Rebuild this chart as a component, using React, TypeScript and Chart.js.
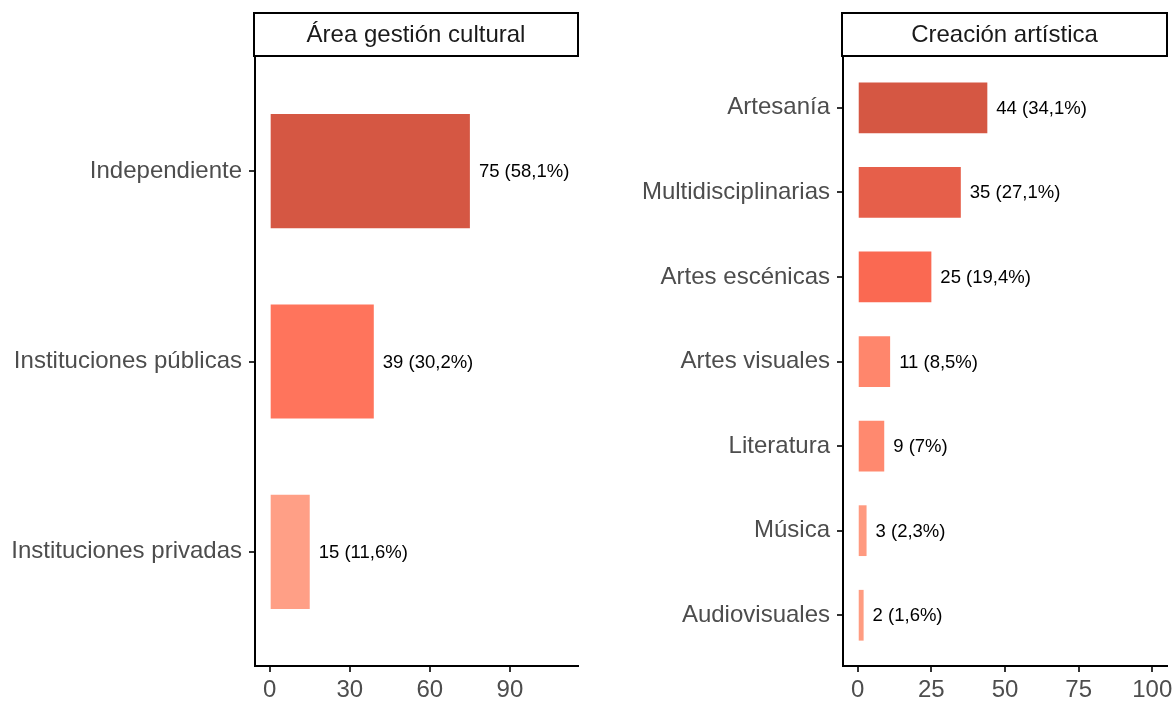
import React, { useEffect, useRef } from "react";
import { Chart, registerables, CategoryScale } from "chart.js";

Chart.register(...registerables);

class PaddedCategory extends (CategoryScale as any) {
  static id = "paddedCategory";
  static defaults = (CategoryScale as any).defaults;
  configure() {
    super.configure();
    const pad = 0.6;
    (this as any)._startValue = (this as any).min - pad;
    (this as any)._valueRange = (this as any).max - (this as any).min + 2 * pad;
  }
}
Chart.register(PaddedCategory as any);

// ---- Data ----
const leftTitle = "Área gestión cultural";
const leftCategories = ["Independiente", "Instituciones públicas", "Instituciones privadas"];
const leftValues = [75, 39, 15];
const leftPercents = ["58,1%", "30,2%", "11,6%"];
const leftColors = ["#D55743", "#FF745C", "#FF9F86"];
const leftTicks = [0, 30, 60, 90];
const leftLimits = [0, 110];

const rightTitle = "Creación artística";
const rightCategories = [
  "Artesanía",
  "Multidisciplinarias",
  "Artes escénicas",
  "Artes visuales",
  "Literatura",
  "Música",
  "Audiovisuales",
];
const rightValues = [44, 35, 25, 11, 9, 3, 2];
const rightPercents = ["34,1%", "27,1%", "19,4%", "8,5%", "7%", "2,3%", "1,6%"];
const rightColors = ["#D55743", "#E65F4A", "#FA6952", "#FF866C", "#FF896F", "#FF9A80", "#FF9C81"];
const rightTicks = [0, 25, 50, 75, 100];
const rightLimits = [0, 100];

const FONT = "'Liberation Sans', Arial, Helvetica, sans-serif";

type PanelProps = {
  title: string;
  categories: string[];
  values: number[];
  percents: string[];
  colors: string[];
  ticks: number[];
  limits: number[];
  left: number;
  width: number;
  axisWidth: number;
  padRight: number;
};

function Panel(p: PanelProps) {
  const ref = useRef<HTMLCanvasElement | null>(null);
  useEffect(() => {
    if (!ref.current) return;
    const span = p.limits[1] - p.limits[0];
    const stripPlugin = {
      id: "strip",
      afterDraw(chart: any) {
        const { ctx, chartArea } = chart;
        ctx.save();
        const top = 13;
        const bottom = 56;
        const l = chartArea.left - 1;
        ctx.fillStyle = "#FFFFFF";
        ctx.fillRect(l, top, chartArea.right - l, bottom - top);
        ctx.strokeStyle = "#000000";
        ctx.lineWidth = 2;
        ctx.strokeRect(l, top, chartArea.right - l, bottom - top);
        ctx.fillStyle = "#1A1A1A";
        ctx.font = `24px ${FONT}`;
        ctx.textAlign = "center";
        ctx.textBaseline = "middle";
        ctx.fillText(p.title, (l + chartArea.right) / 2, (top + bottom) / 2 + 1);
        ctx.restore();
      },
    };
    const labelPlugin = {
      id: "valueLabels",
      afterDatasetsDraw(chart: any) {
        const { ctx } = chart;
        const meta = chart.getDatasetMeta(0);
        ctx.save();
        ctx.fillStyle = "#000000";
        ctx.font = `18.5px ${FONT}`;
        ctx.textAlign = "left";
        ctx.textBaseline = "middle";
        meta.data.forEach((bar: any, i: number) => {
          ctx.fillText(`${p.values[i]} (${p.percents[i]})`, bar.x + 9, bar.y + 1);
        });
        ctx.restore();
      },
    };
    const chart = new Chart(ref.current, {
      type: "bar",
      data: {
        labels: p.categories,
        datasets: [
          {
            data: p.values,
            backgroundColor: p.colors,
            borderWidth: 0,
            categoryPercentage: 0.6,
            barPercentage: 1,
          },
        ],
      },
      options: {
        indexAxis: "y",
        animation: false,
        responsive: true,
        maintainAspectRatio: false,
        layout: { padding: { top: 57, right: p.padRight, bottom: 0, left: 0 } },
        plugins: { legend: { display: false }, tooltip: { enabled: false }, title: { display: false } },
        scales: {
          x: {
            type: "linear",
            min: p.limits[0] - span * 0.05,
            max: p.limits[1] + span * 0.05,
            afterBuildTicks: (s: any) => {
              s.ticks = p.ticks.map((v) => ({ value: v }));
            },
            afterFit: (s: any) => {
              s.height = 36;
              s.paddingLeft = 0;
              s.paddingRight = 0;
            },
            border: { display: true, color: "#000000", width: 2 },
            grid: {
              display: true,
              drawOnChartArea: false,
              drawTicks: true,
              tickLength: 6,
              color: "#333333",
              lineWidth: 2,
            },
            ticks: {
              color: "#4D4D4D",
              font: { family: FONT, size: 24 },
              padding: 4,
              maxRotation: 0,
              autoSkip: false,
            },
          },
          y: {
            type: "paddedCategory" as any,
            offset: false,
            afterFit: (s: any) => {
              s.width = p.axisWidth;
              s.paddingTop = 0;
              s.paddingBottom = 0;
            },
            border: { display: true, color: "#000000", width: 2 },
            grid: {
              display: true,
              offset: false,
              drawOnChartArea: false,
              drawTicks: true,
              tickLength: 6,
              color: "#333333",
              lineWidth: 2,
            },
            ticks: {
              color: "#4D4D4D",
              font: { family: FONT, size: 24 },
              padding: 7,
              autoSkip: false,
            },
          } as any,
        },
      } as any,
      plugins: [stripPlugin, labelPlugin],
    });
    return () => chart.destroy();
  }, []);
  return (
    <div style={{ position: "absolute", top: 0, left: p.left, width: p.width, height: 702 }}>
      <canvas ref={ref} />
    </div>
  );
}

export default function App() {
  return (
    <div style={{ position: "absolute", top: 0, left: 0, width: 1174, height: 702, background: "#FFFFFF" }}>
      <Panel
        title={leftTitle}
        categories={leftCategories}
        values={leftValues}
        percents={leftPercents}
        colors={leftColors}
        ticks={leftTicks}
        limits={leftLimits}
        left={0}
        width={590}
        axisWidth={255}
        padRight={12}
      />
      <Panel
        title={rightTitle}
        categories={rightCategories}
        values={rightValues}
        percents={rightPercents}
        colors={rightColors}
        ticks={rightTicks}
        limits={rightLimits}
        left={590}
        width={584}
        axisWidth={253}
        padRight={7}
      />
    </div>
  );
}
